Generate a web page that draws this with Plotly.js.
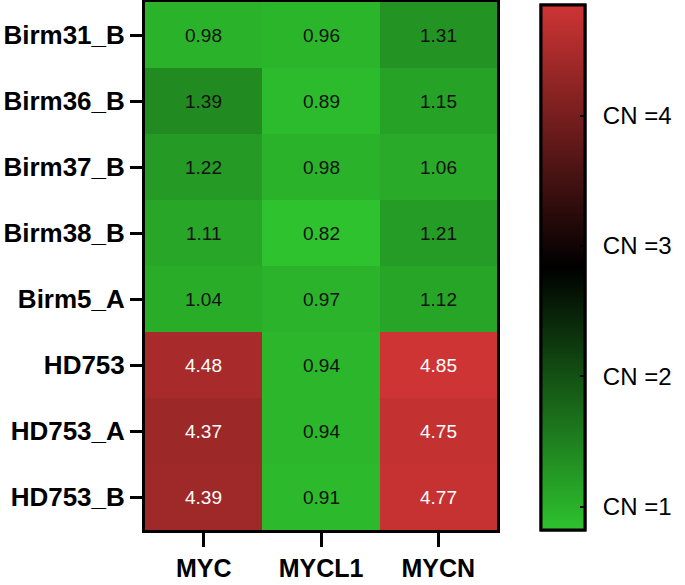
<!DOCTYPE html>
<html>
<head>
<meta charset="utf-8">
<script src="https://cdn.plot.ly/plotly-3.0.1.min.js"></script>
<style>html,body{margin:0;padding:0;background:#fff;}#chart{width:685px;height:585px;}</style>
</head>
<body>
<div id="chart"></div>
<script>
const samples = ["Birm31_B","Birm36_B","Birm37_B","Birm38_B","Birm5_A","HD753","HD753_A","HD753_B"];
const genes = ["MYC","MYCL1","MYCN"];
const MYC   = [0.98, 1.39, 1.22, 1.11, 1.04, 4.48, 4.37, 4.39];
const MYCL1 = [0.96, 0.89, 0.98, 0.82, 0.97, 0.94, 0.94, 0.91];
const MYCN  = [1.31, 1.15, 1.06, 1.21, 1.12, 4.85, 4.75, 4.77];
const cbVals = [1, 2, 3, 4];
const cbText = ["CN =1", "CN =2", "CN =3", "CN =4"];

const z = samples.map((s, i) => [MYC[i], MYCL1[i], MYCN[i]]);
const zmin = 0.82, zmax = 4.85;
const FONT = 'Liberation Sans, Arial, sans-serif';
const scale = [[0, 'rgb(46,194,46)'], [0.5, 'rgb(0,0,0)'], [1, 'rgb(206,52,52)']];

const annotations = [];
samples.forEach((s, i) => {
  genes.forEach((g, j) => {
    const v = z[i][j];
    annotations.push({
      x: g, y: s, xref: 'x', yref: 'y', text: v.toFixed(2), showarrow: false,
      font: {family: FONT, size: 19, color: v > 2.8 ? '#ffffff' : '#111111'}
    });
  });
});

const cbBase = {
  x: 1.125, xanchor: 'left', xref: 'paper', y: 0.497, yanchor: 'middle',
  len: 0.994, lenmode: 'fraction', thickness: 44, thicknessmode: 'pixels',
  outlinewidth: 3, outlinecolor: '#000', xpad: 0, ypad: 0,
  tickmode: 'array', tickvals: cbVals, ticktext: cbText,
  tickfont: {family: FONT, size: 24, color: '#000'}
};

// labelled colorbar (labels pushed out by invisible outside ticks)
const trace = {
  type: 'heatmap', x: genes, y: samples, z: z, zmin: zmin, zmax: zmax,
  colorscale: scale, hoverinfo: 'none',
  colorbar: Object.assign({}, cbBase, {ticks: 'outside', ticklen: 12, tickwidth: 1, tickcolor: 'rgba(0,0,0,0)'})
};
// same heatmap, colorbar drawn on top with the inside tick marks
const trace2 = {
  type: 'heatmap', x: genes, y: samples, z: z, zmin: zmin, zmax: zmax,
  colorscale: scale, hoverinfo: 'none',
  colorbar: Object.assign({}, cbBase, {ticks: 'inside', ticklen: 6, tickwidth: 2, tickcolor: '#000', showticklabels: false})
};

const layout = {
  width: 685, height: 585,
  margin: {l: 145, r: 188, t: 2, b: 55},
  paper_bgcolor: '#fff', plot_bgcolor: '#fff',
  xaxis: {
    type: 'category', showline: true, mirror: true, linewidth: 3, linecolor: '#000',
    ticks: 'outside', ticklen: 14, tickwidth: 3, tickcolor: '#000',
    tickfont: {family: FONT, size: 25, color: '#000', weight: 'bold'},
    showgrid: false, zeroline: false, fixedrange: true
  },
  yaxis: {
    type: 'category', autorange: 'reversed', showline: true, mirror: true, linewidth: 3, linecolor: '#000',
    ticks: 'outside', ticklen: 12, tickwidth: 3, tickcolor: '#000',
    tickfont: {family: FONT, size: 26, color: '#000', weight: 'bold'},
    showgrid: false, zeroline: false, fixedrange: true
  },
  annotations: annotations,
  showlegend: false
};

Plotly.newPlot('chart', [trace, trace2], layout, {displayModeBar: false, staticPlot: true});
</script>
</body>
</html>
